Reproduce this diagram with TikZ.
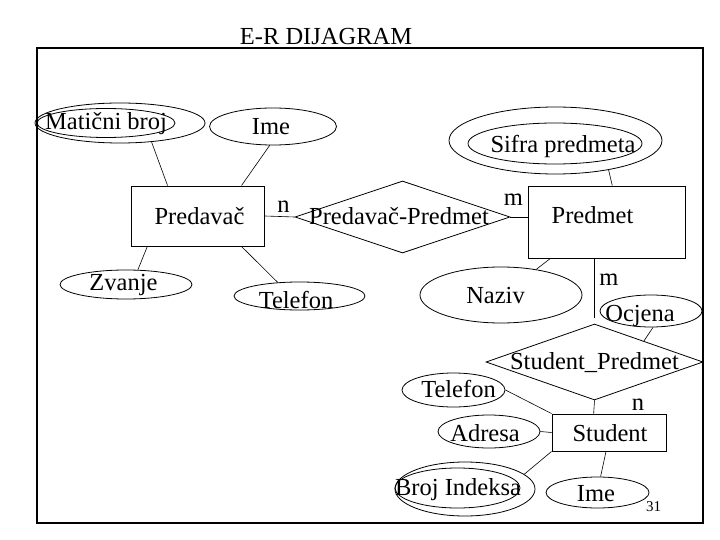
\documentclass[tikz,border=0pt]{standalone}
\usepackage{fontspec}
\setmainfont{Liberation Serif}
\usetikzlibrary{shapes.geometric}

\begin{document}
\begin{tikzpicture}[
  x=1pt, y=-1pt,
  font=\fontsize{24.5}{29}\selectfont,
  ent/.style={draw, rectangle, inner sep=0pt, line width=0.9pt},
  attr/.style={draw, ellipse, inner sep=0pt, line width=0.8pt},
  rel/.style={draw, diamond, inner sep=0pt, line width=0.8pt},
  txt/.style={anchor=base, inner sep=0pt},
  conn/.style={line width=0.6pt}
]
  \useasboundingbox (0,0) rectangle (720,540);
  \node[txt] (title) at (326,45) {E-R DIJAGRAM};
  \draw[line width=1.2pt] (37,48) rectangle (703,523);

  \node[ent, minimum width=133pt, minimum height=60pt] (predavac) at (198,216) {};
  \node[ent, minimum width=157pt, minimum height=72pt] (predmet) at (606.5,222) {};
  \node[ent, minimum width=114pt, minimum height=37pt] (student) at (609,432.5) {};

  \node[rel, minimum width=215pt, minimum height=72pt] (pp) at (402.5,217) {};
  \node[rel, minimum width=217pt, minimum height=76pt] (sp) at (594.5,362) {};

  \node[attr, minimum width=170pt, minimum height=40pt] (matbrojO) at (120,123) {};
  \node[attr, minimum width=138pt, minimum height=29pt] (matbroj) at (106,123) {};
  \node[attr, minimum width=127pt, minimum height=37pt] (ime) at (273,126.5) {};
  \node[attr, minimum width=132pt, minimum height=29pt] (zvanje) at (126,284.5) {};
  \node[attr, minimum width=131pt, minimum height=28pt] (telefon) at (299.5,296) {};
  \node[attr, minimum width=213pt, minimum height=67pt] (sifraO) at (555.5,140.5) {};
  \node[attr, minimum width=174pt, minimum height=41pt] (sifra) at (555,143.5) {};
  \node[attr, minimum width=162pt, minimum height=56pt] (naziv) at (501,295) {};
  \node[attr, minimum width=102pt, minimum height=32pt] (ocjena) at (651,311) {};
  \node[attr, minimum width=103pt, minimum height=34pt] (telefonS) at (453.5,390) {};
  \node[attr, minimum width=102pt, minimum height=33pt] (adresa) at (489,431.5) {};
  \node[attr, minimum width=140pt, minimum height=54pt] (indeksO) at (465,489) {};
  \node[attr, minimum width=125pt, minimum height=40pt] (indeks) at (457.5,488) {};
  \node[attr, minimum width=103pt, minimum height=31pt] (imeS) at (597.5,492.5) {};

  \node[txt] (predavacT) at (199.5,225) {Predavač};
  \node[txt] (predmetT) at (592.5,224) {Predmet};
  \node[txt] (studentT) at (610,441) {Student};
  \node[txt] (ppT) at (399,225) {Predavač-Predmet};
  \node[txt] (spT) at (594.5,369) {Student\_Predmet};
  \node[txt] (matbrojT) at (106,130) {Matični broj};
  \node[txt] (imeT) at (271,135) {Ime};
  \node[txt] (zvanjeT) at (123.5,290) {Zvanje};
  \node[txt] (telefonT) at (296,308) {Telefon};
  \node[txt] (sifraT) at (563,153) {Sifra predmeta};
  \node[txt] (nazivT) at (495.5,303) {Naziv};
  \node[txt] (ocjenaT) at (640,321) {Ocjena};
  \node[txt] (telefonST) at (458.5,397) {Telefon};
  \node[txt] (adresaT) at (485,441) {Adresa};
  \node[txt] (indeksT) at (458,495) {Broj Indeksa};
  \node[txt] (imeST) at (596,501) {Ime};

  \node[txt] (nPred) at (283.5,212) {n};
  \node[txt] (mPred) at (513.5,206) {m};
  \node[txt] (mSP) at (609,285) {m};
  \node[txt] (nSP) at (638,410) {n};
  \node[txt, font=\fontsize{15}{18}\selectfont] (slideNo) at (653.5,511) {31};

  \draw[conn] (matbrojO.-31) -- (predavac.135);
  \draw[conn] (ime.-100) -- (predavac.35);
  \draw[conn] (zvanje.51) -- (predavac.211);
  \draw[conn] (telefon.148) -- (predavac.-35);
  \draw[conn] (predavac.east) -- (pp.west);
  \draw[conn] (pp.east) -- (pp.east -| predmet.west);
  \draw[conn] (sifraO.-29) -- (predmet.81);
  \draw[conn] (naziv.36) -- (predmet.213);
  \draw[conn, shorten >=6pt] (sp.north |- predmet.south) -- (sp.north);
  \draw[conn] (ocjena.-83) -- (sp.23);
  \draw[conn] (telefonS.east) -- (student.north west);
  \draw[conn] (sp.south) -- (student.129);
  \draw[conn] (adresa.east) -- (student.west);
  \draw[conn] (indeksO.14) -- (student.south west);
  \draw[conn] (imeS.79) -- (student.-99);
\end{tikzpicture}
\end{document}
